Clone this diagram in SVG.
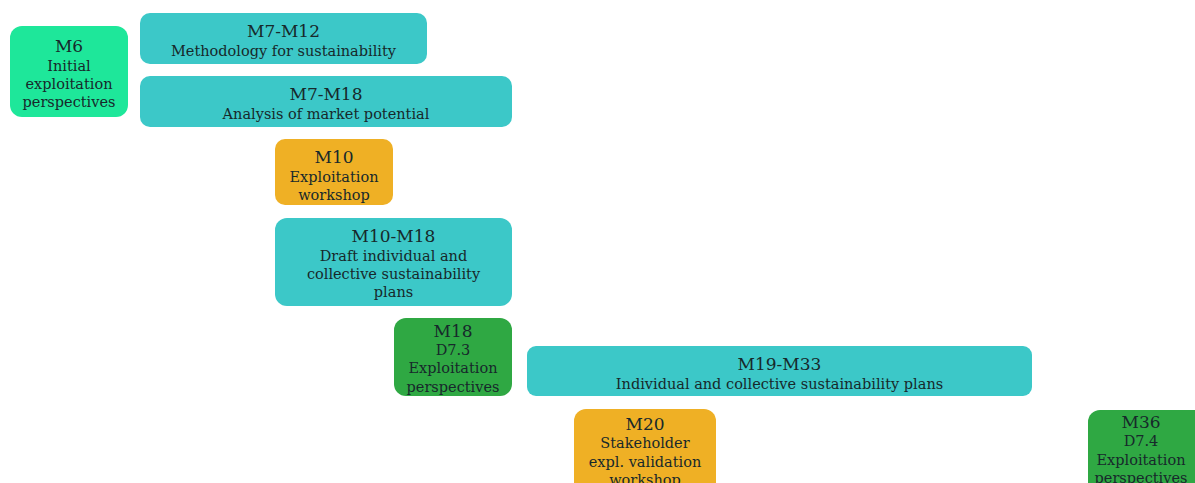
<svg xmlns="http://www.w3.org/2000/svg" width="1195" height="483" viewBox="0 0 1195 483">
<style>
text{font-family:"DejaVu Serif","Liberation Serif",serif;fill:#17292b;text-anchor:middle}
.t{font-size:17px}
.s{font-size:14.5px}
.teal{fill:#3cc8c8}
.mint{fill:#1ee79a}
.orange{fill:#efb025}
.green{fill:#2fa843}
</style>
<rect width="1195" height="483" fill="#ffffff"/>
<g id="connectors"></g>
<g id="m6"><rect class="mint" x="10" y="26" width="118" height="91" rx="12"/>
<text x="69" y="52" class="t">M6</text><text x="69" y="71" class="s">Initial</text><text x="69" y="89" class="s">exploitation</text><text x="69" y="107" class="s">perspectives</text></g>
<g id="m7-m12"><rect class="teal" x="140" y="13" width="287" height="51" rx="10"/>
<text x="283.5" y="37" class="t">M7-M12</text><text x="283.5" y="56" class="s">Methodology for sustainability</text></g>
<g id="m7-m18"><rect class="teal" x="140" y="76" width="372" height="51" rx="10"/>
<text x="326" y="100" class="t">M7-M18</text><text x="326" y="119" class="s">Analysis of market potential</text></g>
<g id="m10"><rect class="orange" x="275" y="139" width="118" height="66" rx="10"/>
<text x="334" y="163" class="t">M10</text><text x="334" y="182" class="s">Exploitation</text><text x="334" y="200" class="s">workshop</text></g>
<g id="m10-m18"><rect class="teal" x="275" y="218" width="237" height="88" rx="12"/>
<text x="393.5" y="242" class="t">M10-M18</text><text x="393.5" y="261" class="s">Draft individual and</text><text x="393.5" y="279" class="s">collective sustainability</text><text x="393.5" y="297" class="s">plans</text></g>
<g id="m18"><rect class="green" x="394" y="318" width="118" height="78" rx="12"/>
<text x="453" y="337" class="t">M18</text><text x="453" y="355" class="s">D7.3</text><text x="453" y="373" class="s">Exploitation</text><text x="453" y="392" class="s">perspectives</text></g>
<g id="m19-m33"><rect class="teal" x="527" y="346" width="505" height="50" rx="9"/>
<text x="779.5" y="370" class="t">M19-M33</text><text x="779.5" y="389" class="s">Individual and collective sustainability plans</text></g>
<g id="m20"><rect class="orange" x="574" y="409" width="142" height="90" rx="12"/>
<text x="645" y="430" class="t">M20</text><text x="645" y="448" class="s">Stakeholder</text><text x="645" y="467" class="s">expl. validation</text><text x="645" y="485" class="s">workshop</text></g>
<g id="m36"><rect class="green" x="1088" y="410" width="130" height="90" rx="12"/>
<text x="1141" y="428" class="t">M36</text><text x="1141" y="446" class="s">D7.4</text><text x="1141" y="465" class="s">Exploitation</text><text x="1141" y="483" class="s">perspectives</text></g>
</svg>
